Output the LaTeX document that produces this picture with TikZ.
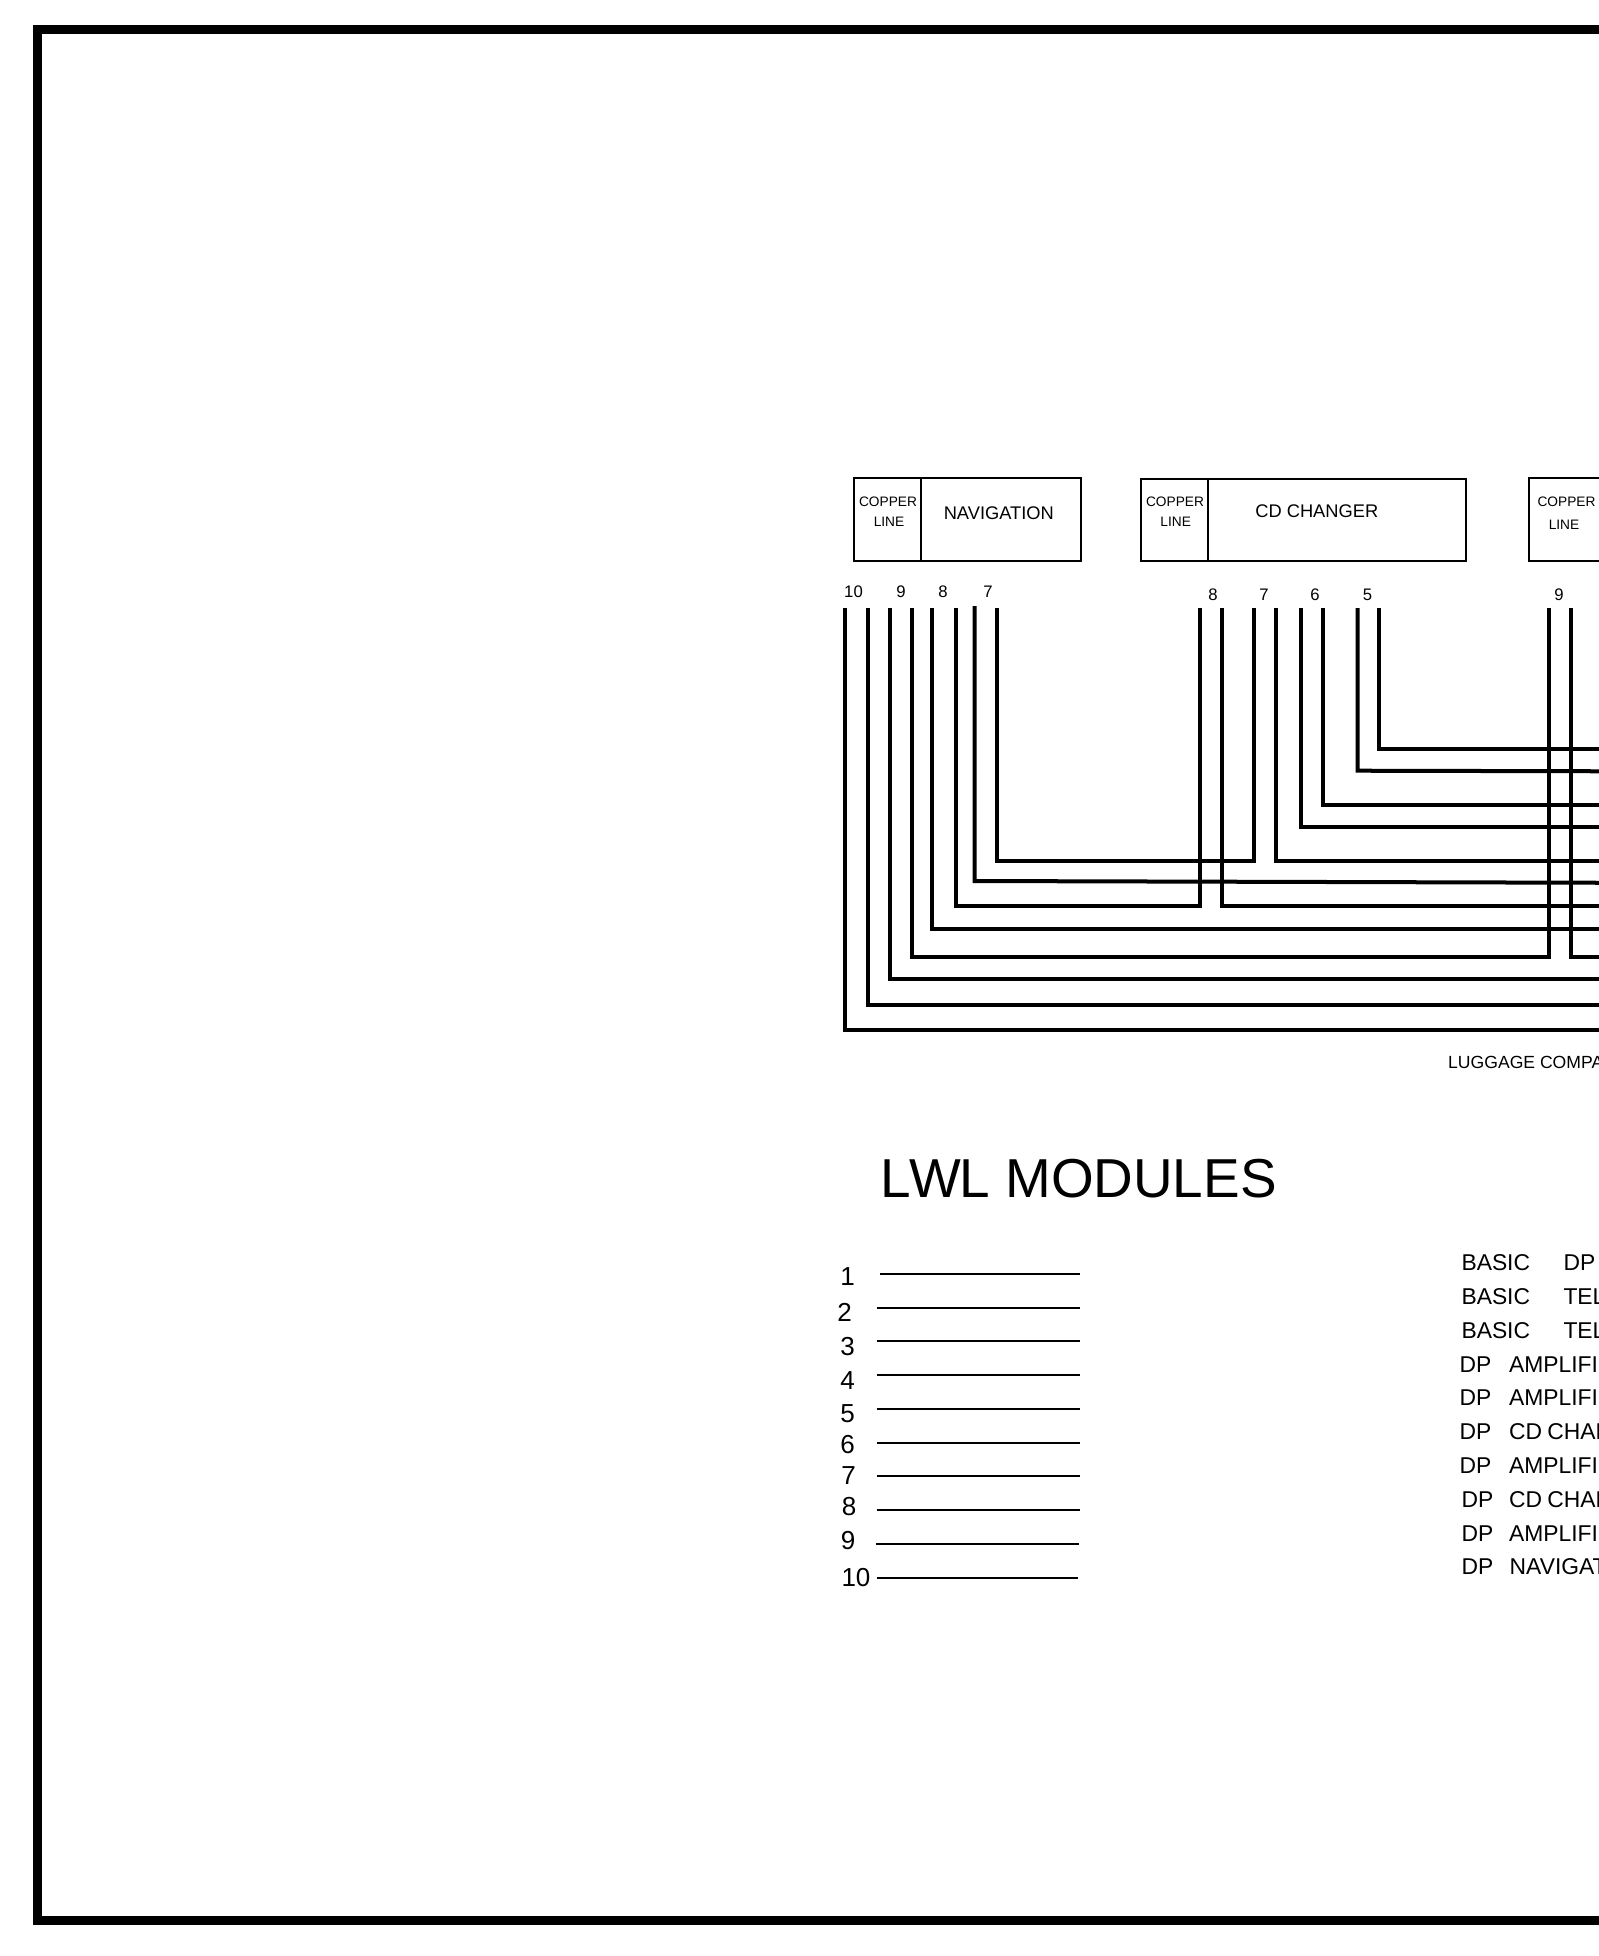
\documentclass[tikz,border=0pt]{standalone}
\usepackage{fontspec}
\setmainfont{Liberation Sans}
\newcommand{\fs}[1]{\fontsize{#1}{#1}\selectfont}
\tikzset{
	wire/.style={line width=0.04cm},
	modline/.style={line width=0.02cm},
	boxline/.style={draw, line width=0.02cm, inner sep=0pt, minimum height=0.827cm},
	txt/.style={inner sep=0pt, font=\fs{5.2}},
	coppertxt/.style={txt, font=\fs{3.9}},
	pintxt/.style={txt, font=\fs{4.75}},
	numtxt/.style={txt, font=\fs{7.4}},
	listtxt/.style={txt, anchor=west, font=\fs{6.5}}
}

\begin{document}
\begin{tikzpicture}[x=0.01cm, y=-0.01cm]
			%%%%% PAGE %%%%%
			\useasboundingbox (0, 0) rectangle (1599, 1956);
			\clip (0, 0) rectangle (1599, 1956);
			\draw[line width=0.09cm] (1620, 29.5) -- (37.5, 29.5) -- (37.5, 1920.5) -- (1620, 1920.5);
			
			%%%%% BOXES %%%%%
			\node[boxline, minimum width=0.671cm] (navcopper) at (887.6, 519.6) {};
			\node[boxline, minimum width=1.594cm] (navmain) at (1000.8, 519.6) {};
			\node[boxline, minimum width=0.671cm] (cdcopper) at (1174.6, 520) {};
			\node[boxline, minimum width=2.578cm, minimum height=0.819cm] (cdmain) at (1337.1, 520) {};
			\node[boxline, minimum width=1cm] (thirdcopper) at (1579.2, 519.6) {};
			
			\node[coppertxt] (navcop) at (888, 501.5) {COPPER};
			\node[coppertxt] (navlin) at (889, 521.5) {LINE};
			\node[txt] (navname) at (998.8, 512.7) {NAVIGATION};
			\node[coppertxt] (cdcop) at (1175, 501.5) {COPPER};
			\node[coppertxt] (cdlin) at (1175.7, 521.5) {LINE};
			\node[txt] (cdname) at (1316.8, 511) {CD CHANGER};
			\node[coppertxt] (thirdcop) at (1566.5, 501.5) {COPPER};
			\node[coppertxt] (thirdlin) at (1564, 524.5) {LINE};
			
			%%%%% PIN NUMBERS %%%%%
			\node[pintxt] (navpin10) at (853.5, 592) {10};
			\node[pintxt] (navpin9) at (901, 592) {9};
			\node[pintxt] (navpin8) at (943, 592) {8};
			\node[pintxt] (navpin7) at (988, 592) {7};
			\node[pintxt] (cdpin8) at (1213, 595) {8};
			\node[pintxt] (cdpin7) at (1264, 595) {7};
			\node[pintxt] (cdpin6) at (1315, 595) {6};
			\node[pintxt] (cdpin5) at (1367.5, 595) {5};
			\node[pintxt] (thirdpin9) at (1559, 595) {9};
			
			%%%%% WIRE ENDS %%%%%
			\coordinate (nav10a) at (845, 608);
			\coordinate (nav10b) at (867.7, 608);
			\coordinate (nav9a) at (890, 608);
			\coordinate (nav9b) at (912.4, 608);
			\coordinate (nav8a) at (932.3, 608);
			\coordinate (nav8b) at (955.6, 608);
			\coordinate (nav7a) at (974.5, 606);
			\coordinate (nav7b) at (997.4, 608);
			\coordinate (cd8a) at (1199.6, 608);
			\coordinate (cd8b) at (1222.4, 608);
			\coordinate (cd7a) at (1253.7, 608);
			\coordinate (cd7b) at (1275.6, 608);
			\coordinate (cd6a) at (1300.9, 608);
			\coordinate (cd6b) at (1323.2, 608);
			\coordinate (cd5a) at (1357.5, 608);
			\coordinate (cd5b) at (1379.4, 608);
			\coordinate (third9a) at (1548.8, 608);
			\coordinate (third9b) at (1571.2, 608);
			
			\coordinate (edge1) at (1620, 749.3);
			\coordinate (edge2) at (1620, 771.3);
			\coordinate (edge3) at (1620, 805.3);
			\coordinate (edge4) at (1620, 827.3);
			\coordinate (edge5) at (1620, 861.3);
			\coordinate (edge6) at (1620, 882.8);
			\coordinate (edge7) at (1620, 906.3);
			\coordinate (edge8) at (1620, 929.3);
			\coordinate (edge9) at (1620, 957.3);
			\coordinate (edge10) at (1620, 979.3);
			\coordinate (edge11) at (1620, 1005.3);
			\coordinate (edge12) at (1620, 1030.3);
			
			%%%%% WIRES %%%%%
			\draw[wire] (cd5b) |- (edge1);
			\draw[wire] (cd5a) -- (1357.5, 770.7) -- (edge2);
			\draw[wire] (cd6b) |- (edge3);
			\draw[wire] (cd6a) |- (edge4);
			\draw[wire] (nav7b) -- ++(0, 253.3) -| (cd7a);
			\draw[wire] (cd7b) |- (edge5);
			\draw[wire] (nav7a) -- (974.5, 881) -- (edge6);
			\draw[wire] (nav8b) -- ++(0, 298.3) -| (cd8a);
			\draw[wire] (cd8b) |- (edge7);
			\draw[wire] (nav8a) |- (edge8);
			\draw[wire] (nav9b) -- ++(0, 349.3) -| (third9a);
			\draw[wire] (third9b) |- (edge9);
			\draw[wire] (nav9a) |- (edge10);
			\draw[wire] (nav10b) |- (edge11);
			\draw[wire] (nav10a) |- (edge12);
			
			\node[txt, anchor=west, font=\fs{5.0}] (luggage) at (1447.5, 1062) {LUGGAGE COMPA};
			
			%%%%% MODULES %%%%%
			\node[txt, anchor=west, font=\fs{15.6}] (title) at (880, 1179) {L\kern-0.03em W\kern-0.03em L MODULES};
			
			\node[numtxt] (num1) at (847.5, 1277) {1};
			\node[numtxt] (num2) at (844.5, 1312.5) {2};
			\node[numtxt] (num3) at (847.5, 1347) {3};
			\node[numtxt] (num4) at (847.5, 1381) {4};
			\node[numtxt] (num5) at (847.5, 1414) {5};
			\node[numtxt] (num6) at (847.5, 1445) {6};
			\node[numtxt] (num7) at (848.5, 1476) {7};
			\node[numtxt] (num8) at (849, 1507) {8};
			\node[numtxt] (num9) at (848, 1541) {9};
			\node[numtxt] (num10) at (856, 1578) {10};
			
			\coordinate (line1a) at (879.6, 1274.3);
			\coordinate (line1b) at (1080.3, 1274.3);
			\coordinate (line2a) at (876.6, 1308.3);
			\coordinate (line2b) at (1080.3, 1308.3);
			\coordinate (line3a) at (876.6, 1341.3);
			\coordinate (line3b) at (1080.3, 1341.3);
			\coordinate (line4a) at (876.6, 1375.3);
			\coordinate (line4b) at (1080.3, 1375.3);
			\coordinate (line5a) at (876.6, 1409.3);
			\coordinate (line5b) at (1080.3, 1409.3);
			\coordinate (line6a) at (876.6, 1443.3);
			\coordinate (line6b) at (1080.3, 1443.3);
			\coordinate (line7a) at (876.6, 1476.3);
			\coordinate (line7b) at (1080.3, 1476.3);
			\coordinate (line8a) at (876.6, 1510.3);
			\coordinate (line8b) at (1080.3, 1510.3);
			\coordinate (line9a) at (875.6, 1544.3);
			\coordinate (line9b) at (1079.3, 1544.3);
			\coordinate (line10a) at (876.6, 1578.3);
			\coordinate (line10b) at (1078.3, 1578.3);
			
			\draw[modline] (line1a) -- (line1b);
			\draw[modline] (line2a) -- (line2b);
			\draw[modline] (line3a) -- (line3b);
			\draw[modline] (line4a) -- (line4b);
			\draw[modline] (line5a) -- (line5b);
			\draw[modline] (line6a) -- (line6b);
			\draw[modline] (line7a) -- (line7b);
			\draw[modline] (line8a) -- (line8b);
			\draw[modline] (line9a) -- (line9b);
			\draw[modline] (line10a) -- (line10b);
			
			%%%%% LIST %%%%%
			\node[listtxt] (row1a) at (1460.8, 1263) {BASIC};
			\node[listtxt] (row1b) at (1562.8, 1263) {DP};
			\node[listtxt] (row2a) at (1460.8, 1297) {BASIC};
			\node[listtxt] (row2b) at (1562.8, 1297) {TEL};
			\node[listtxt] (row3a) at (1460.8, 1331) {BASIC};
			\node[listtxt] (row3b) at (1562.8, 1331) {TEL};
			\node[listtxt] (row4a) at (1458.8, 1365) {DP};
			\node[listtxt] (row4b) at (1508.4, 1365) {AMPLIFI};
			\node[listtxt] (row5a) at (1458.8, 1398) {DP};
			\node[listtxt] (row5b) at (1508.4, 1398) {AMPLIFI};
			\node[listtxt] (row6a) at (1458.8, 1432) {DP};
			\node[listtxt] (row6b) at (1508.4, 1432) {CD\kern-0.05em\ CHAN};
			\node[listtxt] (row7a) at (1458.8, 1466) {DP};
			\node[listtxt] (row7b) at (1508.4, 1466) {AMPLIFI};
			\node[listtxt] (row8a) at (1460.8, 1499.5) {DP};
			\node[listtxt] (row8b) at (1508.4, 1499.5) {CD\kern-0.05em\ CHAN};
			\node[listtxt] (row9a) at (1460.8, 1533.5) {DP};
			\node[listtxt] (row9b) at (1508.4, 1533.5) {AMPLIFI};
			\node[listtxt] (row10a) at (1460.8, 1567) {DP};
			\node[listtxt] (row10b) at (1509, 1567) {NAVIGAT};
		\end{tikzpicture}
\end{document}
